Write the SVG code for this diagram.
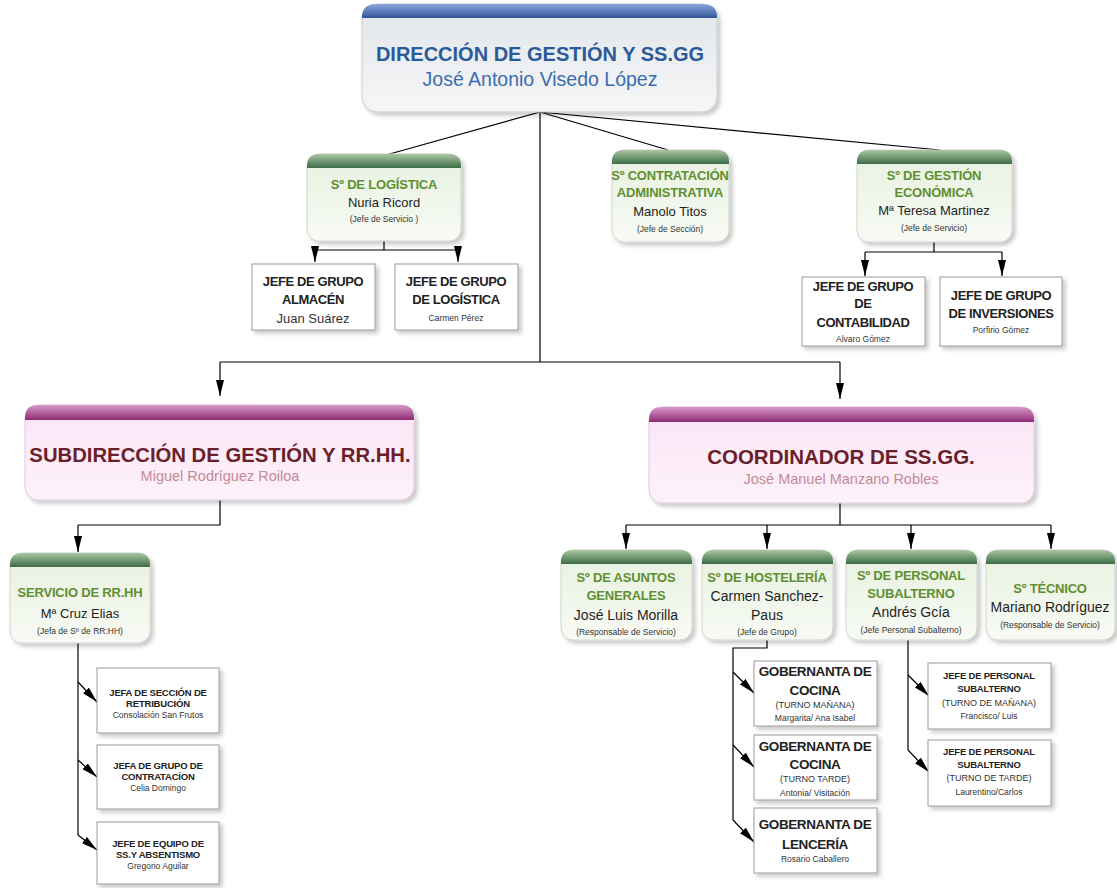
<svg xmlns="http://www.w3.org/2000/svg" width="1117" height="888" viewBox="0 0 1117 888">
<defs>
<style>
text{font-family:"Liberation Sans",Arial,sans-serif;text-anchor:middle}
.body-g{fill:url(#gBody);stroke:#cfd6cc;stroke-width:1}
.body-b{fill:url(#bBody);stroke:#c9ccd0;stroke-width:1}
.body-m{fill:url(#mBody);stroke:#e2c6dc;stroke-width:1}
.head-g{fill:url(#gHead)}
.head-b{fill:url(#bHead)}
.head-m{fill:url(#mHead)}
.plain{fill:#fff;stroke:#9a9a9a;stroke-width:1}
.gt{font-weight:bold;font-size:13px;fill:#5f8f30;letter-spacing:-0.2px}
.gn{font-size:13px;fill:#1e1e1e}
.gn2{font-size:14px;fill:#1e1e1e}
.gs{font-size:8.5px;fill:#333}
.bt{font-weight:bold;font-size:13px;fill:#222;letter-spacing:-0.4px}
.bn{font-size:13px;fill:#333}
.bs{font-size:8.5px;fill:#333}
.gb{font-weight:bold;font-size:13.5px;fill:#222;letter-spacing:-0.4px}
.rt{font-weight:bold;font-size:9.5px;fill:#222;letter-spacing:-0.2px}
.rs{font-size:8.5px;fill:#333}
.ps{font-size:9px;fill:#333}
.ct{stroke:#000;stroke-width:1.2;fill:none}
</style>
<linearGradient id="bHead" x1="0" y1="0" x2="0" y2="1"><stop offset="0" stop-color="#8aa6dc"/><stop offset="1" stop-color="#2f5597"/></linearGradient>
<linearGradient id="gHead" x1="0" y1="0" x2="0" y2="1"><stop offset="0" stop-color="#a9c7a2"/><stop offset="1" stop-color="#3e6c47"/></linearGradient>
<linearGradient id="mHead" x1="0" y1="0" x2="0" y2="1"><stop offset="0" stop-color="#d898c8"/><stop offset="1" stop-color="#8d2c74"/></linearGradient>
<linearGradient id="bBody" x1="0" y1="0" x2="0" y2="1"><stop offset="0" stop-color="#e2e6ea"/><stop offset="1" stop-color="#f5f6f7"/></linearGradient>
<linearGradient id="gBody" x1="0" y1="0" x2="0" y2="1"><stop offset="0" stop-color="#e7f1df"/><stop offset="1" stop-color="#f8fbf5"/></linearGradient>
<linearGradient id="mBody" x1="0" y1="0" x2="0" y2="1"><stop offset="0" stop-color="#fbe4f5"/><stop offset="1" stop-color="#fdf2fb"/></linearGradient>
<filter id="sh" x="-10%" y="-10%" width="130%" height="140%"><feDropShadow dx="3" dy="3" stdDeviation="2" flood-color="#000" flood-opacity="0.22"/></filter>
<marker id="d" viewBox="0 0 16 8" refX="16" refY="4" markerWidth="16" markerHeight="8" markerUnits="userSpaceOnUse" orient="auto"><path d="M0,0 L16,4 L0,8 Z" fill="#000"/></marker>
</defs>
<rect width="1117" height="888" fill="#fff"/>

<g id="connectors">
<path class="ct" d="M540,112 L386,155"/>
<path class="ct" d="M540,112 L668,150"/>
<path class="ct" d="M540,112 L940,150"/>
<path class="ct" d="M540,112 V362 M220,362 H840"/>
<path class="ct" d="M220,362 V396" marker-end="url(#d)"/>
<path class="ct" d="M840,362 V399" marker-end="url(#d)"/>
<path class="ct" d="M384,240 V250 M315,250 H458"/>
<path class="ct" d="M315,250 V262" marker-end="url(#d)"/>
<path class="ct" d="M458,250 V262" marker-end="url(#d)"/>
<path class="ct" d="M934,241 V252 M865,252 H1002"/>
<path class="ct" d="M865,252 V276" marker-end="url(#d)"/>
<path class="ct" d="M1002,252 V276" marker-end="url(#d)"/>
<path class="ct" d="M220,500 V525 H78"/>
<path class="ct" d="M78,525 V552" marker-end="url(#d)"/>
<path class="ct" d="M840,503 V525 M626,525 H1051"/>
<path class="ct" d="M626,525 V549" marker-end="url(#d)"/>
<path class="ct" d="M767,525 V549" marker-end="url(#d)"/>
<path class="ct" d="M911,525 V549" marker-end="url(#d)"/>
<path class="ct" d="M1051,525 V549" marker-end="url(#d)"/>
<path class="ct" d="M78,643 V835"/>
<path class="ct" d="M78,682 L97,702" marker-end="url(#d)"/>
<path class="ct" d="M78,760 L97,777" marker-end="url(#d)"/>
<path class="ct" d="M78,835 L97,850" marker-end="url(#d)"/>
<path class="ct" d="M767,640 V648 H733 V820"/>
<path class="ct" d="M733,672 L754,693" marker-end="url(#d)"/>
<path class="ct" d="M733,745 L754,767" marker-end="url(#d)"/>
<path class="ct" d="M733,820 L754,842" marker-end="url(#d)"/>
<path class="ct" d="M908,640 V750"/>
<path class="ct" d="M908,675 L929,696" marker-end="url(#d)"/>
<path class="ct" d="M908,750 L929,772" marker-end="url(#d)"/>
</g>

<g id="n-direccion">
<g filter="url(#sh)"><rect class="body-b" x="362" y="4" width="355" height="108" rx="15"/>
<path class="head-b" d="M362,18 V17 Q362,4 377,4 H702 Q717,4 717,17 V18 Z"/></g>
<text x="540" y="61" style="font-weight:bold;font-size:20px;fill:#2b5a9a">DIRECCIÓN DE GESTIÓN Y SS.GG</text>
<text x="540" y="86" style="font-size:19.5px;fill:#3b6db0">José Antonio Visedo López</text>
</g>

<g id="n-logistica">
<g filter="url(#sh)"><rect class="body-g" x="307" y="154" width="154" height="87" rx="12"/>
<path class="head-g" d="M307,168 V166 Q307,154 319,154 H449 Q461,154 461,166 V168 Z"/></g>
<text class="gt" x="384" y="189">Sº DE LOGÍSTICA</text>
<text class="gn" x="384" y="207">Nuria Ricord</text>
<text class="gs" x="384" y="222">(Jefe de Servicio )</text>
</g>

<g id="n-contratacion">
<g filter="url(#sh)"><rect class="body-g" x="612" y="150" width="117" height="92" rx="12"/>
<path class="head-g" d="M612,164 V162 Q612,150 624,150 H717 Q729,150 729,162 V164 Z"/></g>
<text class="gt" x="670" y="180">Sº CONTRATACIÓN</text>
<text class="gt" x="670" y="197">ADMINISTRATIVA</text>
<text class="gn" x="670" y="216">Manolo Titos</text>
<text class="gs" x="670" y="232">(Jefe de Sección)</text>
</g>

<g id="n-economica">
<g filter="url(#sh)"><rect class="body-g" x="857" y="150" width="155" height="92" rx="12"/>
<path class="head-g" d="M857,164 V162 Q857,150 869,150 H1000 Q1012,150 1012,162 V164 Z"/></g>
<text class="gt" x="934" y="180">Sº DE GESTIÓN</text>
<text class="gt" x="934" y="197">ECONÓMICA</text>
<text class="gn" x="934" y="215">Mª Teresa Martinez</text>
<text class="gs" x="934" y="231">(Jefe de Servicio)</text>
</g>

<g id="n-almacen">
<rect class="plain" x="252" y="264" width="123" height="66" filter="url(#sh)"/>
<text class="bt" x="313" y="286">JEFE DE GRUPO</text>
<text class="bt" x="313" y="304">ALMACÉN</text>
<text class="bn" x="313" y="323">Juan Suárez</text>
</g>
<g id="n-grupo-logistica">
<rect class="plain" x="395" y="264" width="123" height="66" filter="url(#sh)"/>
<text class="bt" x="456" y="286">JEFE DE GRUPO</text>
<text class="bt" x="456" y="304">DE LOGÍSTICA</text>
<text class="bs" x="456" y="321">Carmen Pérez</text>
</g>
<g id="n-contabilidad">
<rect class="plain" x="802" y="277" width="123" height="69" filter="url(#sh)"/>
<text class="bt" x="863" y="291">JEFE DE GRUPO</text>
<text class="bt" x="863" y="308">DE</text>
<text class="bt" x="863" y="327">CONTABILIDAD</text>
<text class="bs" x="863" y="342">Alvaro Gómez</text>
</g>
<g id="n-inversiones">
<rect class="plain" x="940" y="277" width="122" height="69" filter="url(#sh)"/>
<text class="bt" x="1001" y="300">JEFE DE GRUPO</text>
<text class="bt" x="1001" y="318">DE INVERSIONES</text>
<text class="bs" x="1001" y="333">Porfirio Gómez</text>
</g>

<g id="n-subdireccion">
<g filter="url(#sh)"><rect class="body-m" x="25" y="405" width="389" height="95" rx="13"/>
<path class="head-m" d="M25,420 V418 Q25,405 38,405 H401 Q414,405 414,418 V420 Z"/></g>
<text x="220" y="462" style="font-weight:bold;font-size:20.3px;fill:#6b1f2b">SUBDIRECCIÓN DE GESTIÓN Y RR.HH.</text>
<text x="220" y="481" style="font-size:14.5px;fill:#c48a96">Miguel Rodríguez Roiloa</text>
</g>

<g id="n-coordinador">
<g filter="url(#sh)"><rect class="body-m" x="649" y="407" width="385" height="96" rx="13"/>
<path class="head-m" d="M649,422 V420 Q649,407 662,407 H1021 Q1034,407 1034,420 V422 Z"/></g>
<text x="841" y="464" style="font-weight:bold;font-size:20.5px;fill:#6b1f2b">COORDINADOR DE SS.GG.</text>
<text x="841" y="484" style="font-size:14.5px;fill:#c48a96">José Manuel Manzano Robles</text>
</g>

<g id="n-rrhh">
<g filter="url(#sh)"><rect class="body-g" x="10" y="553" width="140" height="90" rx="12"/>
<path class="head-g" d="M10,567 V565 Q10,553 22,553 H138 Q150,553 150,565 V567 Z"/></g>
<text class="gt" x="80" y="597">SERVICIO DE RR.HH</text>
<text class="gn" x="80" y="618">Mª Cruz Elias</text>
<text class="gs" x="80" y="634">(Jefa de Sº de RR:HH)</text>
</g>

<g id="n-asuntos">
<g filter="url(#sh)"><rect class="body-g" x="561" y="550" width="131" height="90" rx="12"/>
<path class="head-g" d="M561,564 V562 Q561,550 573,550 H680 Q692,550 692,562 V564 Z"/></g>
<text class="gt" x="626" y="582">Sº DE ASUNTOS</text>
<text class="gt" x="626" y="600">GENERALES</text>
<text class="gn2" x="626" y="620">José Luis Morilla</text>
<text class="gs" x="626" y="635">(Responsable de Servicio)</text>
</g>

<g id="n-hosteleria">
<g filter="url(#sh)"><rect class="body-g" x="702" y="550" width="131" height="90" rx="12"/>
<path class="head-g" d="M702,564 V562 Q702,550 714,550 H821 Q833,550 833,562 V564 Z"/></g>
<text class="gt" x="767" y="582">Sº DE HOSTELERÍA</text>
<text class="gn2" x="767" y="601">Carmen Sanchez-</text>
<text class="gn2" x="767" y="620">Paus</text>
<text class="gs" x="767" y="635">(Jefe de Grupo)</text>
</g>

<g id="n-personal">
<g filter="url(#sh)"><rect class="body-g" x="846" y="550" width="131" height="90" rx="12"/>
<path class="head-g" d="M846,564 V562 Q846,550 858,550 H965 Q977,550 977,562 V564 Z"/></g>
<text class="gt" x="911" y="580">Sº DE PERSONAL</text>
<text class="gt" x="911" y="598">SUBALTERNO</text>
<text class="gn2" x="911" y="617">Andrés Gcía</text>
<text class="gs" x="911" y="633">(Jefe Personal Subalterno)</text>
</g>

<g id="n-tecnico">
<g filter="url(#sh)"><rect class="body-g" x="986" y="550" width="129" height="90" rx="12"/>
<path class="head-g" d="M986,564 V562 Q986,550 998,550 H1103 Q1115,550 1115,562 V564 Z"/></g>
<text class="gt" x="1050" y="593">Sº TÉCNICO</text>
<text class="gn2" x="1050" y="612">Mariano Rodríguez</text>
<text class="gs" x="1050" y="628">(Responsable de Servicio)</text>
</g>

<g id="n-retribucion">
<rect class="plain" x="97" y="668" width="122" height="65" filter="url(#sh)"/>
<text class="rt" x="158" y="696">JEFA DE SECCIÓN DE</text>
<text class="rt" x="158" y="707">RETRIBUCIÓN</text>
<text class="rs" x="158" y="718">Consolación San Frutos</text>
</g>
<g id="n-contratacion-rrhh">
<rect class="plain" x="97" y="745" width="122" height="64" filter="url(#sh)"/>
<text class="rt" x="158" y="769">JEFA DE GRUPO DE</text>
<text class="rt" x="158" y="780">CONTRATACÍON</text>
<text class="rs" x="158" y="791">Celia Domingo</text>
</g>
<g id="n-absentismo">
<rect class="plain" x="97" y="822" width="122" height="62" filter="url(#sh)"/>
<text class="rt" x="158" y="847">JEFE DE EQUIPO DE</text>
<text class="rt" x="158" y="858">SS.Y ABSENTISMO</text>
<text class="rs" x="158" y="869">Gregorio Aguilar</text>
</g>

<g id="n-gob-manana">
<rect class="plain" x="754" y="661" width="123" height="65" filter="url(#sh)"/>
<text class="gb" x="815" y="676">GOBERNANTA DE</text>
<text class="gb" x="815" y="695">COCINA</text>
<text class="ps" x="815" y="708">(TURNO MAÑANA)</text>
<text class="rs" x="815" y="721">Margarita/ Ana Isabel</text>
</g>
<g id="n-gob-tarde">
<rect class="plain" x="754" y="735" width="123" height="65" filter="url(#sh)"/>
<text class="gb" x="815" y="751">GOBERNANTA DE</text>
<text class="gb" x="815" y="769">COCINA</text>
<text class="ps" x="815" y="782">(TURNO TARDE)</text>
<text class="rs" x="815" y="796">Antonia/ Visitación</text>
</g>
<g id="n-gob-lenceria">
<rect class="plain" x="754" y="808" width="123" height="65" filter="url(#sh)"/>
<text class="gb" x="815" y="829">GOBERNANTA DE</text>
<text class="gb" x="815" y="849">LENCERÍA</text>
<text class="rs" x="815" y="862">Rosario Caballero</text>
</g>

<g id="n-sub-manana">
<rect class="plain" x="928" y="663" width="123" height="66" filter="url(#sh)"/>
<text class="rt" x="989" y="679">JEFE DE PERSONAL</text>
<text class="rt" x="989" y="692">SUBALTERNO</text>
<text class="ps" x="989" y="706">(TURNO DE MAÑANA)</text>
<text class="rs" x="989" y="719">Francisco/ Luis</text>
</g>
<g id="n-sub-tarde">
<rect class="plain" x="928" y="740" width="123" height="66" filter="url(#sh)"/>
<text class="rt" x="989" y="755">JEFE DE PERSONAL</text>
<text class="rt" x="989" y="768">SUBALTERNO</text>
<text class="ps" x="989" y="781">(TURNO DE TARDE)</text>
<text class="rs" x="989" y="795">Laurentino/Carlos</text>
</g>
</svg>
